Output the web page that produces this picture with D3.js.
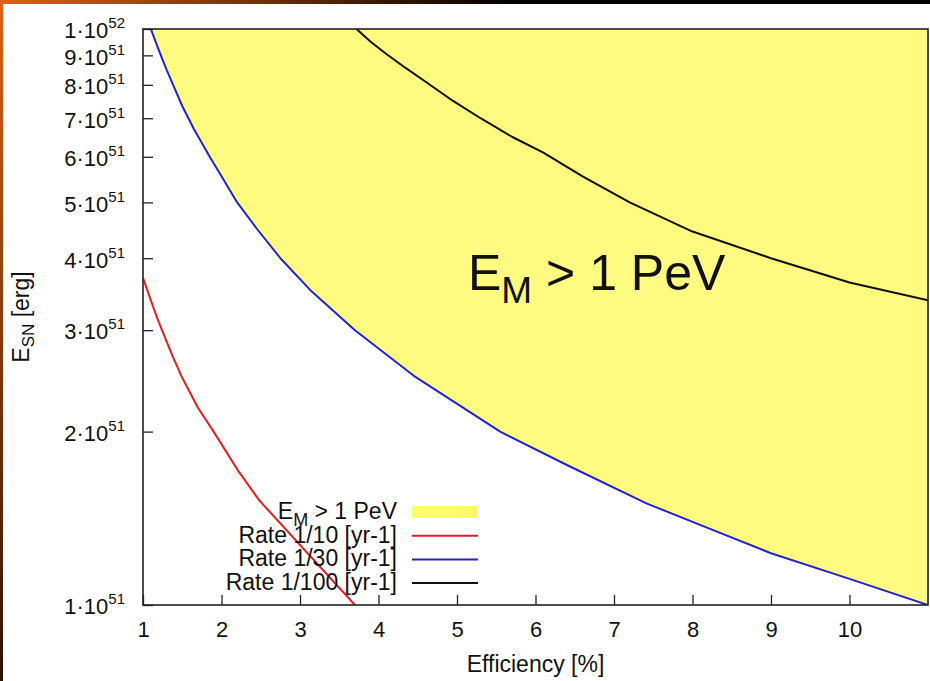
<!DOCTYPE html>
<html>
<head>
<meta charset="utf-8">
<script src="https://cdn.jsdelivr.net/npm/d3@7"></script>
<style>
  body { margin: 0; background: #fff; }
  svg text { font-family: "Liberation Sans", Arial, sans-serif; fill: #111; }
</style>
</head>
<body>
<svg id="chart" width="930" height="681"></svg>
<script>
// values, E in units of 1e51 erg, efficiency in %
var rate10 = [[1, 3.7], [1.1, 3.38], [1.2, 3.1], [1.3, 2.87], [1.4, 2.66], [1.5, 2.48], [1.7, 2.2],
              [1.9, 2.0], [2.2, 1.72], [2.48, 1.52], [3.7, 1.0]];
var rate30 = [[1.1, 10], [1.2, 9.2], [1.3, 8.5], [1.4, 7.9], [1.5, 7.35], [1.65, 6.7], [1.85, 6.0],
              [2.0, 5.55], [2.2, 5.0], [2.45, 4.5], [2.75, 4.0], [3.15, 3.5], [3.7, 3.0], [4.45, 2.5],
              [5.55, 2.0], [6.4, 1.75], [7.42, 1.5], [8.2, 1.36], [9, 1.23], [10, 1.11], [11, 1.0]];
var rate100 = [[3.72, 10], [3.9, 9.5], [4.1, 9.05], [4.35, 8.55], [4.6, 8.1], [4.95, 7.5], [5.3, 7.0],
               [5.7, 6.5], [6.1, 6.1], [6.6, 5.55], [7.2, 5.0], [8, 4.45], [9, 4.0], [10, 3.63], [11, 3.38]];
var xTicks = [1, 2, 3, 4, 5, 6, 7, 8, 9, 10];
var yTicks = [1, 2, 3, 4, 5, 6, 7, 8, 9, 10];
var legendLabels = ["E_M > 1 PeV", "Rate 1/10 [yr-1]", "Rate 1/30 [yr-1]", "Rate 1/100 [yr-1]"];
var legendColors = ["#fdfb6a", "#e01f25", "#2424c0", "#111"];

var svg = d3.select("#chart");
var mLeft = 143, mRight = 928, mTop = 29, mBottom = 605;

var x = d3.scaleLinear().domain([1, 11]).range([mLeft, mRight]);
var y = d3.scaleLog().domain([1, 10]).range([mBottom, mTop]);

// slide frame
var defs = svg.append("defs");
var gTop = defs.append("linearGradient").attr("id", "topband");
gTop.append("stop").attr("offset", "0%").attr("stop-color", "#e3600f");
gTop.append("stop").attr("offset", "55%").attr("stop-color", "#000");
gTop.append("stop").attr("offset", "100%").attr("stop-color", "#000");
var gLeft = defs.append("linearGradient").attr("id", "leftband")
    .attr("x1", 0).attr("y1", 0).attr("x2", 0).attr("y2", 1);
gLeft.append("stop").attr("offset", "0%").attr("stop-color", "#e3600f");
gLeft.append("stop").attr("offset", "100%").attr("stop-color", "#2a1205");
svg.append("rect").attr("x", 0).attr("y", 0).attr("width", 930).attr("height", 4).attr("fill", "url(#topband)");
svg.append("rect").attr("x", 0).attr("y", 0).attr("width", 3).attr("height", 681).attr("fill", "url(#leftband)");

var clip = defs.append("clipPath").attr("id", "plotclip");
clip.append("rect").attr("x", mLeft).attr("y", mTop).attr("width", mRight - mLeft).attr("height", mBottom - mTop);

var plot = svg.append("g").attr("clip-path", "url(#plotclip)");

// yellow region above the 1/30 curve
var area = d3.area()
    .x(function(d) { return x(d[0]); })
    .y0(y(10))
    .y1(function(d) { return y(d[1]); });
plot.append("path").datum(rate30).attr("d", area).attr("fill", "#fefb80");

plot.append("text")
    .attr("x", 468).attr("y", 290)
    .style("font-size", "50px")
    .call(function(t) {
      t.append("tspan").text("E");
      t.append("tspan").attr("dy", 13).style("font-size", "37px").text("M");
      t.append("tspan").attr("dy", -13).text(" > 1 PeV");
    });

var line = d3.line()
    .x(function(d) { return x(d[0]); })
    .y(function(d) { return y(d[1]); });
[[rate10, legendColors[1]], [rate30, legendColors[2]], [rate100, legendColors[3]]].forEach(function(s) {
  plot.append("path").datum(s[0]).attr("d", line)
      .attr("fill", "none").attr("stroke", s[1]).attr("stroke-width", 2)
      .attr("stroke-linejoin", "round");
});

// axes
var xAxis = svg.append("g").attr("transform", "translate(0," + mBottom + ")")
    .call(d3.axisBottom(x).tickValues(xTicks).tickSize(-10).tickPadding(14).tickFormat(d3.format("d")));
var yAxis = svg.append("g").attr("transform", "translate(" + mLeft + ",0)")
    .call(d3.axisLeft(y).tickValues(yTicks).tickSize(-10).tickPadding(18).tickFormat(""));
[xAxis, yAxis].forEach(function(a) {
  a.select(".domain").remove();
  a.selectAll(".tick line").attr("stroke", "#222").attr("stroke-width", 1.3);
});
xAxis.selectAll(".tick text").attr("fill", "#111").style("font-size", "22px")
    .attr("font-family", null).attr("y", 16).attr("dy", "0.71em");

yAxis.selectAll(".tick text")
    .attr("fill", "#111").attr("font-family", null).style("font-size", "22px")
    .attr("x", 125 - mLeft).attr("dy", "0.4em")
    .each(function(d) {
      var t = d3.select(this);
      var mant = d === 10 ? 1 : d;
      var ex = d === 10 ? "52" : "51";
      t.append("tspan").text(mant + "\u00b710");
      t.append("tspan").attr("dy", -10).style("font-size", "15px").text(ex);
    });

svg.append("rect")
    .attr("x", mLeft).attr("y", mTop).attr("width", mRight - mLeft).attr("height", mBottom - mTop)
    .attr("fill", "none").attr("stroke", "#222").attr("stroke-width", 1.6);

// axis titles
svg.append("text")
    .attr("x", (mLeft + mRight) / 2).attr("y", 672)
    .attr("text-anchor", "middle").style("font-size", "23px")
    .text("Efficiency [%]");

svg.append("text")
    .attr("transform", "translate(29," + ((mTop + mBottom) / 2) + ") rotate(-90)")
    .attr("text-anchor", "middle").style("font-size", "23px")
    .call(function(t) {
      t.append("tspan").text("E");
      t.append("tspan").attr("dy", 5).style("font-size", "17px").text("SN");
      t.append("tspan").attr("dy", -5).text(" [erg]");
    });

// legend
var legend = svg.append("g");
legendLabels.forEach(function(lab, i) {
  var cy = 512 + i * 23.7;
  var t = legend.append("text").attr("x", 397).attr("y", cy + 7)
      .attr("text-anchor", "end").style("font-size", "23px");
  if (i === 0) {
    t.append("tspan").text("E");
    t.append("tspan").attr("dy", 7).style("font-size", "18px").text("M");
    t.append("tspan").attr("dy", -7).text(" > 1 PeV");
    legend.append("rect").attr("x", 412).attr("y", cy - 6).attr("width", 66).attr("height", 12)
        .attr("fill", legendColors[0]);
  } else {
    t.text(lab);
    legend.append("line").attr("x1", 412).attr("x2", 478).attr("y1", cy).attr("y2", cy)
        .attr("stroke", legendColors[i]).attr("stroke-width", 2);
  }
});
</script>
</body>
</html>
